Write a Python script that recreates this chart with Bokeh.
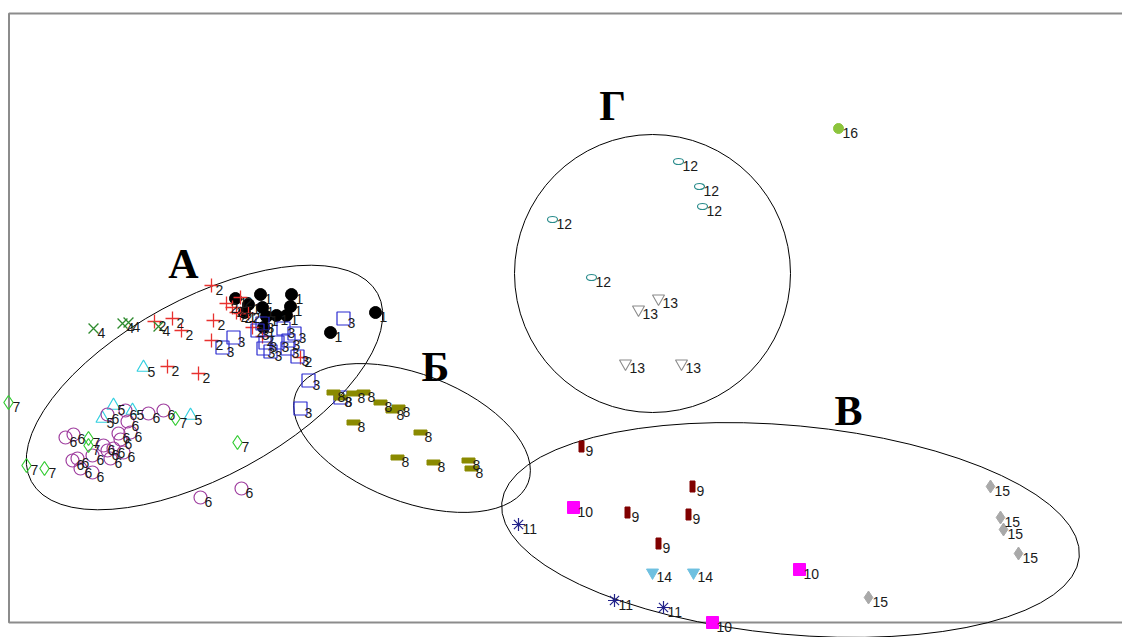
from bokeh.plotting import figure
from bokeh.models import Range1d
from bokeh.core.properties import value
from bokeh.embed import file_html
from bokeh.resources import INLINE

# ---- ordination scores per group (axis 1 = x, axis 2 = y) ----
g1_x = [2.27, 2.40, 2.52, 2.83, 2.54, 2.58, 2.68, 2.78, 2.82, 2.36, 2.55, 3.22, 3.67]
g1_y = [3.39, 3.33, 3.43, 3.43, 3.30, 3.21, 3.22, 3.22, 3.31, 3.25, 3.10, 3.05, 3.25]
g2_x = [2.03, 1.46, 1.64, 1.73, 2.05, 2.03, 2.18, 2.24, 2.32, 2.40, 2.44, 2.54, 2.92, 1.59, 1.90, 2.32, 2.28]
g2_y = [3.52, 3.16, 3.19, 3.07, 3.17, 2.97, 3.34, 3.30, 3.24, 3.24, 3.10, 3.01, 2.80, 2.71, 2.64, 3.40, 3.25]
g3_x = [3.35, 2.25, 2.14, 2.54, 2.75, 2.86, 2.57, 2.69, 2.80, 2.55, 2.62, 2.79, 2.89, 2.49, 3.00, 2.92, 3.32]
g3_y = [3.19, 3.00, 2.90, 3.14, 3.09, 3.04, 2.95, 2.95, 2.97, 2.89, 2.86, 2.89, 2.81, 3.07, 2.57, 2.29, 2.40]
g4_x = [0.85, 1.14, 1.20, 1.50]
g4_y = [3.09, 3.14, 3.15, 3.11]
g5_x = [1.35, 1.05, 0.94, 1.24, 1.82]
g5_y = [2.70, 2.32, 2.19, 2.27, 2.22]
g6_x = [0.99, 1.17, 1.19, 1.40, 1.55, 1.10, 1.22, 1.12, 0.57, 0.65, 0.95, 0.99, 1.05, 1.15, 0.69, 0.64, 0.84, 1.02, 0.72, 0.84, 1.92, 2.33]
g6_y = [2.23, 2.27, 2.16, 2.24, 2.27, 2.04, 2.05, 1.98, 2.00, 2.03, 1.92, 1.87, 1.89, 1.85, 1.79, 1.77, 1.82, 1.79, 1.69, 1.65, 1.40, 1.49]
g7_x = [0.00, 0.80, 0.80, 1.67, 2.29, 0.18, 0.36]
g7_y = [2.35, 1.99, 1.92, 2.19, 1.95, 1.72, 1.69]
g8_x = [3.25, 3.32, 3.45, 3.55, 3.72, 3.84, 3.90, 3.45, 4.12, 3.89, 4.25, 4.60, 4.63]
g8_y = [2.45, 2.40, 2.44, 2.45, 2.35, 2.27, 2.30, 2.15, 2.05, 1.80, 1.75, 1.77, 1.69]
g9_x = [5.73, 6.84, 6.19, 6.80, 6.50]
g9_y = [1.91, 1.51, 1.25, 1.23, 0.94]
g10_x = [5.65, 7.91, 7.04]
g10_y = [1.30, 0.68, 0.15]
g11_x = [5.10, 6.06, 6.55]
g11_y = [1.13, 0.37, 0.30]
g12_x = [6.70, 6.91, 6.94, 5.44, 5.83]
g12_y = [4.76, 4.51, 4.31, 4.18, 3.60]
g13_x = [6.50, 6.30, 6.17, 6.73]
g13_y = [3.39, 3.28, 2.74, 2.74]
g14_x = [6.44, 6.85]
g14_y = [0.65, 0.65]
g15_x = [9.82, 9.92, 9.95, 10.10, 8.60]
g15_y = [1.51, 1.20, 1.08, 0.84, 0.40]
g16_x = [8.30]
g16_y = [5.09]

# ---- cluster ellipses (А, Б, В, Г) ----
ell_x = [1.96, 4.035, 7.82, 6.44]
ell_y = [2.50, 1.995, 1.075, 3.64]
ell_w = [3.94, 2.49, 5.80, 2.76]
ell_h = [1.78, 1.275, 2.09, 2.78]
ell_angle = [28.5, -21.1, -5.35, 0.0]

cluster_names = ["А", "Б", "В", "Г"]
cluster_x = [1.75, 4.27, 8.40, 6.04]
cluster_y = [3.74, 2.71, 2.27, 5.32]

# plot frame (open on the right)
frame_left, frame_top, frame_bottom, frame_right = 0.005, 6.24, 0.15, 11.5

p = figure(width=1122, height=637, x_range=Range1d(-0.08, 11.14), y_range=Range1d(0, 6.37),
           output_backend="svg", toolbar_location=None,
           x_axis_location=None, y_axis_location=None,
           min_border_left=0, min_border_right=0, min_border_top=0, min_border_bottom=0)
p.grid.visible = False
p.outline_line_color = None
p.background_fill_color = "white"
p.border_fill_color = "white"

p.line(x=[frame_right, frame_left, frame_left, frame_right],
       y=[frame_top, frame_top, frame_bottom, frame_bottom],
       line_color="#8c8c8c", line_width=2)

p.ellipse(x=ell_x, y=ell_y, width=ell_w, height=ell_h, angle=ell_angle, angle_units="deg",
          fill_color=None, line_color="black", line_width=1)

scatter_groups = [
    ("1", g1_x, g1_y, dict(marker="circle", size=12, fill_color="black", line_color="black")),
    ("2", g2_x, g2_y, dict(marker="cross", size=14, fill_color=None, line_color="#e8312f", line_width=1.3)),
    ("3", g3_x, g3_y, dict(marker="square", size=13, fill_color=None, line_color="#2b2bd0", line_width=1.2)),
    ("4", g4_x, g4_y, dict(marker="x", size=14, fill_color=None, line_color="#2e8b2e", line_width=1.3)),
    ("5", g5_x, g5_y, dict(marker="triangle", size=13, fill_color=None, line_color="#33d0e0", line_width=1.2)),
    ("6", g6_x, g6_y, dict(marker="circle", size=13, fill_color=None, line_color="#a040a0", line_width=1.2)),
    ("7", g7_x, g7_y, dict(marker="diamond", size=14, fill_color=None, line_color="#33cc33", line_width=1.2)),
    ("10", g10_x, g10_y, dict(marker="square", size=12, fill_color="#ff00ff", line_color="#ff00ff")),
    ("11", g11_x, g11_y, dict(marker="asterisk", size=13, fill_color=None, line_color="#22228a", line_width=1.2)),
    ("13", g13_x, g13_y, dict(marker="inverted_triangle", size=12, fill_color=None, line_color="#8a8a8a", line_width=1.1)),
    ("14", g14_x, g14_y, dict(marker="inverted_triangle", size=12, fill_color="#6fc0e0", line_color="#6fc0e0")),
    ("15", g15_x, g15_y, dict(marker="diamond", size=13, fill_color="#a9a9a9", line_color="#a9a9a9")),
    ("16", g16_x, g16_y, dict(marker="circle", size=10, fill_color="#8cc43c", line_color="#8cc43c")),
]
for lab, xs, ys, st in scatter_groups:
    p.scatter(x=xs, y=ys, **st)

p.rect(x=g8_x, y=g8_y, width=13, height=5, width_units="screen", height_units="screen",
       fill_color="#8a8a00", line_color="#8a8a00")
p.rect(x=g9_x, y=g9_y, width=5, height=11, width_units="screen", height_units="screen",
       fill_color="#800000", line_color="#800000")
p.ellipse(x=g12_x, y=g12_y, width=10, height=6, width_units="screen", height_units="screen",
          fill_color=None, line_color="#2a8c8c", line_width=1.2)

label_groups = [("1", g1_x, g1_y), ("2", g2_x, g2_y), ("3", g3_x, g3_y), ("4", g4_x, g4_y),
                ("5", g5_x, g5_y), ("6", g6_x, g6_y), ("7", g7_x, g7_y), ("8", g8_x, g8_y),
                ("9", g9_x, g9_y), ("10", g10_x, g10_y), ("11", g11_x, g11_y), ("12", g12_x, g12_y),
                ("13", g13_x, g13_y), ("14", g14_x, g14_y), ("15", g15_x, g15_y), ("16", g16_x, g16_y)]
for lab, xs, ys in label_groups:
    p.text(x=xs, y=ys, text=[lab] * len(xs), x_offset=4, y_offset=4,
           text_font=value("Liberation Sans"), text_font_size="14px", text_color="#1a1a1a",
           text_align="left", text_baseline="middle")

p.text(x=cluster_x, y=cluster_y, text=cluster_names, text_font=value("Liberation Serif"),
       text_font_style="bold", text_font_size="42px", text_color="black",
       text_align="center", text_baseline="middle")

open("out.html", "w").write(file_html(p, INLINE))
